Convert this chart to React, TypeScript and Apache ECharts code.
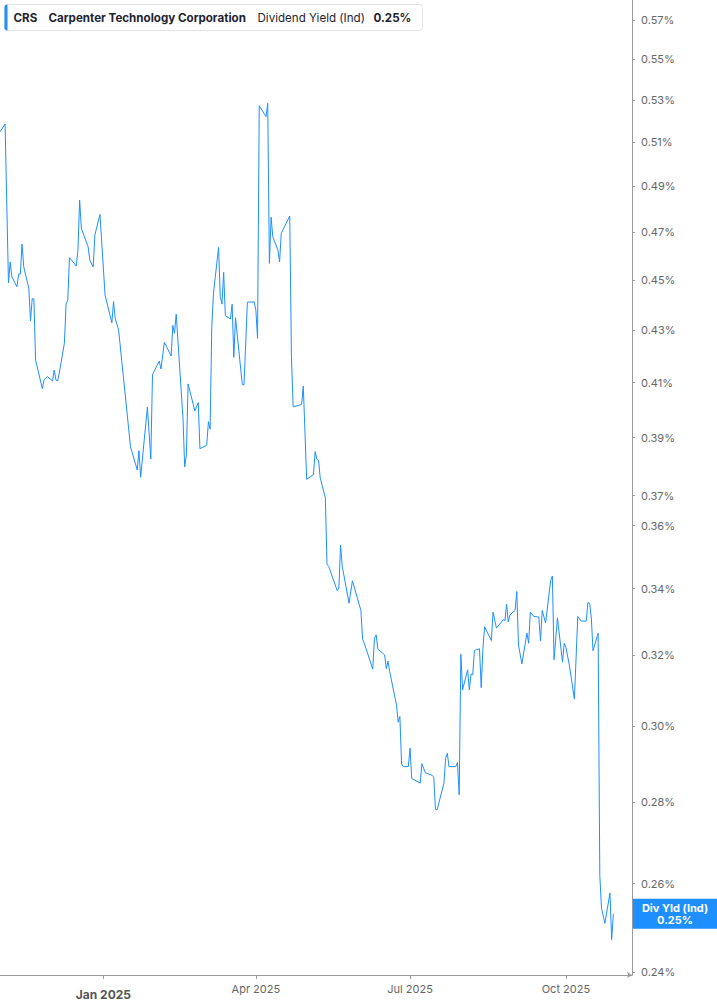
import React, { useEffect, useRef } from 'react';
import * as echarts from 'echarts';

// CRS dividend yield (indicated)
const dates = [
  '2024-11-01', '2024-11-04', '2024-11-06', '2024-11-07', '2024-11-08', '2024-11-11', '2024-11-12', '2024-11-13',
  '2024-11-14', '2024-11-15', '2024-11-18', '2024-11-19', '2024-11-20', '2024-11-21', '2024-11-22', '2024-11-26',
  '2024-11-27', '2024-11-29', '2024-12-02', '2024-12-03', '2024-12-04', '2024-12-05', '2024-12-06', '2024-12-09',
  '2024-12-10', '2024-12-11', '2024-12-12', '2024-12-16', '2024-12-17', '2024-12-18', '2024-12-19', '2024-12-20',
  '2024-12-23', '2024-12-24', '2024-12-26', '2024-12-27', '2024-12-30', '2025-01-02', '2025-01-06', '2025-01-07',
  '2025-01-08', '2025-01-10', '2025-01-15', '2025-01-17', '2025-01-21', '2025-01-22', '2025-01-23', '2025-01-27',
  '2025-01-29', '2025-01-30', '2025-02-03', '2025-02-04', '2025-02-06', '2025-02-10', '2025-02-11', '2025-02-12',
  '2025-02-13', '2025-02-17', '2025-02-18', '2025-02-19', '2025-02-20', '2025-02-24', '2025-02-26', '2025-02-27',
  '2025-03-03', '2025-03-04', '2025-03-05', '2025-03-06', '2025-03-07', '2025-03-10', '2025-03-11', '2025-03-12',
  '2025-03-13', '2025-03-14', '2025-03-17', '2025-03-18', '2025-03-19', '2025-03-20', '2025-03-24', '2025-03-25',
  '2025-03-27', '2025-03-31', '2025-04-01', '2025-04-02', '2025-04-03', '2025-04-07', '2025-04-08', '2025-04-09',
  '2025-04-10', '2025-04-11', '2025-04-14', '2025-04-15', '2025-04-16', '2025-04-21', '2025-04-22', '2025-04-23',
  '2025-04-28', '2025-04-29', '2025-05-01', '2025-05-05', '2025-05-06', '2025-05-07', '2025-05-08', '2025-05-09',
  '2025-05-12', '2025-05-13', '2025-05-14', '2025-05-19', '2025-05-20', '2025-05-21', '2025-05-22', '2025-05-26',
  '2025-05-28', '2025-06-02', '2025-06-03', '2025-06-04', '2025-06-09', '2025-06-10', '2025-06-11', '2025-06-12',
  '2025-06-16', '2025-06-17', '2025-06-18', '2025-06-19', '2025-06-23', '2025-06-24', '2025-06-25', '2025-06-26',
  '2025-06-27', '2025-06-30', '2025-07-01', '2025-07-02', '2025-07-07', '2025-07-08', '2025-07-09', '2025-07-10',
  '2025-07-14', '2025-07-15', '2025-07-16', '2025-07-17', '2025-07-21', '2025-07-22', '2025-07-23', '2025-07-24',
  '2025-07-28', '2025-07-29', '2025-07-30', '2025-07-31', '2025-08-01', '2025-08-04', '2025-08-05', '2025-08-06',
  '2025-08-07', '2025-08-08', '2025-08-11', '2025-08-12', '2025-08-13', '2025-08-14', '2025-08-18', '2025-08-19',
  '2025-08-21', '2025-08-25', '2025-08-26', '2025-08-27', '2025-08-28', '2025-08-29', '2025-09-01', '2025-09-02',
  '2025-09-03', '2025-09-05', '2025-09-08', '2025-09-09', '2025-09-10', '2025-09-12', '2025-09-15', '2025-09-16',
  '2025-09-17', '2025-09-19', '2025-09-22', '2025-09-23', '2025-09-24', '2025-09-26', '2025-09-29', '2025-09-30',
  '2025-10-01', '2025-10-03', '2025-10-06', '2025-10-08', '2025-10-10', '2025-10-13', '2025-10-14', '2025-10-15',
  '2025-10-16', '2025-10-17', '2025-10-20', '2025-10-21', '2025-10-22', '2025-10-24', '2025-10-27', '2025-10-28',
  '2025-10-29',
];

const yields = [
  0.515, 0.5186, 0.4489, 0.4575, 0.4514, 0.4473, 0.4525, 0.4525,
  0.465, 0.4555, 0.4468, 0.4336, 0.4425, 0.4424, 0.4185, 0.4077,
  0.411, 0.4122, 0.4106, 0.4147, 0.411, 0.4106, 0.4136, 0.425,
  0.4404, 0.4419, 0.4593, 0.4558, 0.4625, 0.484, 0.4718, 0.4697,
  0.4639, 0.4583, 0.4555, 0.4689, 0.4777, 0.444, 0.4329, 0.4413,
  0.4346, 0.4301, 0.3988, 0.3868, 0.3787, 0.3854, 0.3762, 0.401,
  0.3825, 0.413, 0.4181, 0.4151, 0.4253, 0.42, 0.4319, 0.4288,
  0.4363, 0.3969, 0.3798, 0.3839, 0.4095, 0.3996, 0.4026, 0.3861,
  0.3873, 0.3957, 0.393, 0.4314, 0.4447, 0.4636, 0.4433, 0.4403,
  0.4532, 0.4357, 0.4344, 0.4403, 0.4195, 0.4349, 0.4093, 0.4091,
  0.4411, 0.4412, 0.438, 0.4268, 0.5273, 0.5221, 0.5285, 0.4569,
  0.4765, 0.4681, 0.4625, 0.4575, 0.4696, 0.477, 0.4198, 0.4011,
  0.4019, 0.4087, 0.3755, 0.3771, 0.3851, 0.3824, 0.382, 0.3759,
  0.3693, 0.3476, 0.3469, 0.3394, 0.3401, 0.3537, 0.3469, 0.3355,
  0.3424, 0.3333, 0.3247, 0.3235, 0.316, 0.325, 0.326, 0.3218,
  0.3201, 0.3161, 0.3183, 0.3153, 0.3059, 0.3011, 0.3027, 0.2899,
  0.2892, 0.2892, 0.2941, 0.2861, 0.2849, 0.29, 0.2888, 0.2876,
  0.2869, 0.2865, 0.2782, 0.2781, 0.2849, 0.2914, 0.2927, 0.2892,
  0.2892, 0.2903, 0.2819, 0.3203, 0.3101, 0.3158, 0.3101, 0.3146,
  0.3144, 0.3214, 0.3219, 0.3107, 0.3216, 0.3284, 0.3243, 0.3328,
  0.328, 0.3305, 0.3303, 0.3352, 0.3298, 0.332, 0.3333, 0.3391,
  0.323, 0.3175, 0.3265, 0.3235, 0.3328, 0.3315, 0.3313, 0.3242,
  0.3333, 0.3295, 0.3425, 0.3439, 0.3187, 0.3311, 0.318, 0.3235,
  0.3223, 0.3172, 0.3075, 0.3315, 0.3301, 0.3301, 0.3357, 0.3355,
  0.331, 0.3213, 0.3265, 0.262, 0.2543, 0.2508, 0.2578, 0.2471,
  0.253,
];

const yTicks = [0.24, 0.26, 0.28, 0.3, 0.32, 0.34, 0.36, 0.37, 0.39, 0.41, 0.43, 0.45, 0.47, 0.49, 0.51, 0.53, 0.55, 0.57];
const xTicks = ['2025-01-01', '2025-04-01', '2025-07-01', '2025-10-01'];
const xRange = ['2024-11-01', '2025-11-09'];
const MONTHS = ['Jan', 'Feb', 'Mar', 'Apr', 'May', 'Jun', 'Jul', 'Aug', 'Sep', 'Oct', 'Nov', 'Dec'];

const FONT = 'Inter, "Noto Sans", sans-serif';
const BLUE = '#1e8fff';

// 'yyyy-mm-dd' -> local-midnight timestamp
const ts = (s: string) => {
  const [y, m, d] = s.split('-').map(Number);
  return new Date(y, m - 1, d).getTime();
};

const App: React.FC = () => {
  const chartRef = useRef<HTMLDivElement>(null);

  useEffect(() => {
    document.body.style.margin = '0';
    const chart = echarts.init(chartRef.current, null, { renderer: 'svg' });
    const last = yields[yields.length - 1];
    const xTickValues = xTicks.map(ts);
    const yTickValues = yTicks.map(Math.log);

    // log scale done by hand so the irregular tick values can sit where the reference has them
    chart.setOption({
      animation: false,
      textStyle: { fontFamily: FONT },
      grid: { left: 0, top: 0, right: 85, bottom: 30, containLabel: false, outerBoundsMode: 'none' },
      xAxis: {
        type: 'value',
        min: ts(xRange[0]),
        max: ts(xRange[1]),
        axisLine: { show: true, lineStyle: { color: '#9a9a9a', width: 1 }, symbol: ['none', 'arrow'], symbolSize: [5, 5] },
        axisTick: { show: true, length: 4, lineStyle: { color: '#9a9a9a' }, customValues: xTickValues },
        splitLine: { show: false },
        axisLabel: {
          customValues: xTickValues,
          margin: 8,
          color: '#666',
          fontSize: 11,
          fontFamily: FONT,
          formatter: (v: number) => {
            const d = new Date(v);
            const s = MONTHS[d.getMonth()] + ' ' + d.getFullYear();
            return d.getMonth() === 0 ? '{b|' + s + '}' : s;
          },
          rich: {
            b: { fontWeight: 'bold', fontSize: 12, color: '#555', fontFamily: FONT, padding: [5, 0, 0, 0] },
          },
        },
      },
      yAxis: {
        type: 'value',
        position: 'right',
        min: Math.log(0.2393),
        max: Math.log(0.5805),
        axisLine: { show: true, lineStyle: { color: '#9a9a9a', width: 1 } },
        axisTick: { show: true, length: 3, lineStyle: { color: '#9a9a9a' }, customValues: yTickValues },
        splitLine: { show: false },
        axisLabel: {
          customValues: yTickValues,
          margin: 9,
          color: '#666',
          fontSize: 11,
          fontFamily: FONT,
          formatter: (v: number) => Math.exp(v).toFixed(2) + '%',
        },
      },
      series: [
        {
          type: 'line',
          name: 'Dividend Yield (Ind)',
          data: dates.map((d, i) => [ts(d), Math.log(yields[i])]),
          showSymbol: false,
          lineStyle: { width: 1, color: BLUE },
          itemStyle: { color: BLUE },
        },
      ],
    });

    const yLast = chart.convertToPixel({ yAxisIndex: 0 }, Math.log(last)) as number;
    const xAxisEnd = 717 - 85;

    chart.setOption({
      graphic: [
        {
          type: 'group',
          left: 4,
          top: 4,
          children: [
            { type: 'rect', shape: { x: 0, y: 0, width: 418, height: 26, r: 3 }, style: { fill: '#fff', stroke: '#e4e4e4', lineWidth: 1 } },
            { type: 'rect', shape: { x: 0, y: 0, width: 3, height: 26, r: [3, 0, 0, 3] }, style: { fill: BLUE } },
            { type: 'text', x: 9, y: 13, style: { text: 'CRS', fill: '#1f2330', fontSize: 11.6, fontWeight: 'bold', fontFamily: FONT, verticalAlign: 'middle' } },
            { type: 'text', x: 44, y: 13, style: { text: 'Carpenter Technology Corporation', fill: '#1f2330', fontSize: 11.6, fontWeight: 'bold', fontFamily: FONT, verticalAlign: 'middle' } },
            { type: 'text', x: 253, y: 13, style: { text: 'Dividend Yield (Ind)', fill: '#1f2330', fontSize: 11.6, fontFamily: FONT, verticalAlign: 'middle' } },
            { type: 'text', x: 369, y: 13, style: { text: last.toFixed(2) + '%', fill: '#1f2330', fontSize: 11.6, fontWeight: 'bold', fontFamily: FONT, verticalAlign: 'middle' } },
          ],
        },
        {
          type: 'rect',
          x: xAxisEnd + 1,
          y: yLast - 15,
          shape: { x: 0, y: 0, width: 85, height: 30 },
          style: { fill: BLUE },
          z: 10,
        },
        {
          type: 'text',
          x: xAxisEnd + 43,
          y: yLast - 6,
          z: 11,
          style: { text: 'Div Yld (Ind)', fill: '#fff', fontSize: 11, fontWeight: 'bold', fontFamily: FONT, align: 'center', verticalAlign: 'middle' },
        },
        {
          type: 'text',
          x: xAxisEnd + 43,
          y: yLast + 6,
          z: 11,
          style: { text: last.toFixed(2) + '%', fill: '#fff', fontSize: 11, fontWeight: 'bold', fontFamily: FONT, align: 'center', verticalAlign: 'middle' },
        },
      ],
    });

    return () => {
      chart.dispose();
    };
  }, []);

  return <div ref={chartRef} style={{ width: '717px', height: '1005px' }} />;
};

export default App;
